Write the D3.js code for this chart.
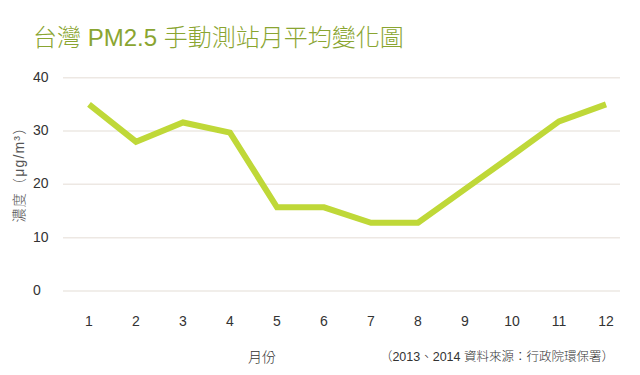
<!DOCTYPE html>
<html><head><meta charset="utf-8">
<script src="https://cdn.jsdelivr.net/npm/d3@7"></script>
<style>
body{margin:0;background:#fff;}
svg{display:block;font-family:"Liberation Sans","Noto Sans CJK TC",sans-serif;}
</style></head>
<body>
<script>
const months = [1,2,3,4,5,6,7,8,9,10,11,12];
const values = [35.0, 28.0, 31.6, 29.7, 15.7, 15.7, 12.8, 12.8, 19.1, 25.4, 31.8, 35.0];
const yTicks = [0,10,20,30,40];
const title = "台灣 PM2.5 手動測站月平均變化圖";
const yLabel = "濃度（μg/m³）";
const xLabel = "月份";
const source = "（2013、2014 資料來源：行政院環保署）";

const W = 640, H = 375;
const svg = d3.select("body").append("svg").attr("width", W).attr("height", H);

const x = d3.scalePoint().domain(months).range([89, 606]);
const y = d3.scaleLinear().domain([0, 40]).range([291, 77.7]);

const cjk = "'Liberation Sans','Noto Sans CJK TC',sans-serif";

svg.append("text").attr("x", 33).attr("y", 46)
  .attr("font-family", cjk).attr("font-weight", 300)
  .attr("font-size", 24).attr("fill", "#8aa531").text(title);

// grid
svg.append("g").selectAll("line").data(yTicks).join("line")
  .attr("x1", 63).attr("x2", 620)
  .attr("y1", d => y(d)).attr("y2", d => y(d))
  .attr("stroke", "#ede8e3").attr("stroke-width", 1.5);

// y tick labels
svg.append("g").selectAll("text").data(yTicks).join("text")
  .attr("x", 33).attr("y", d => y(d) + 4)
  .attr("font-size", 14).attr("fill", "#333").text(d => d);

// x tick labels
svg.append("g").selectAll("text").data(months).join("text")
  .attr("x", d => x(d)).attr("y", 326).attr("text-anchor", "middle")
  .attr("font-size", 14).attr("fill", "#333").text(d => d);

// line
svg.append("path").datum(months.map((m,i)=>[m, values[i]]))
  .attr("d", d3.line().x(d => x(d[0])).y(d => y(d[1])))
  .attr("fill", "none").attr("stroke", "#bfd838").attr("stroke-width", 6)
  .attr("stroke-linejoin", "miter");

// y label
svg.append("text").attr("transform", "translate(24,171) rotate(-90)")
  .attr("text-anchor", "middle").attr("font-size", 14).attr("fill", "#555")
  .attr("letter-spacing", 1.2)
  .attr("font-family", cjk).attr("font-weight", 300)
  .text(yLabel);

svg.append("text").attr("x", 262).attr("y", 362).attr("text-anchor", "middle")
  .attr("font-family", cjk).attr("font-weight", 300)
  .attr("font-size", 14).attr("fill", "#333").text(xLabel);

svg.append("text").attr("x", 614).attr("y", 361).attr("text-anchor", "end")
  .attr("font-family", cjk).attr("font-weight", 300)
  .attr("font-size", 12.5).attr("fill", "#333").text(source);
</script>
</body></html>
